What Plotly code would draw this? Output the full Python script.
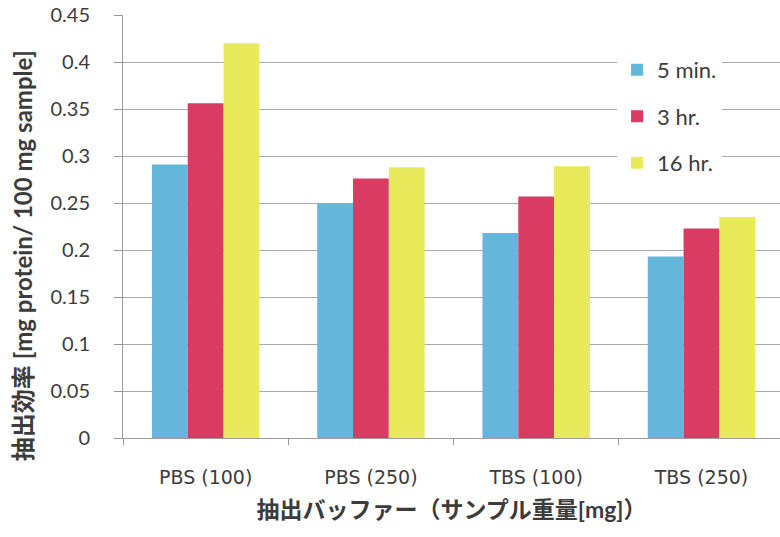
import plotly.graph_objects as go

categories = ["PBS (100)", "PBS (250)", "TBS (100)", "TBS (250)"]
series_names = ["5 min.", "3 hr.", "16 hr."]
values_5min = [0.291, 0.250, 0.218, 0.193]
values_3hr = [0.356, 0.276, 0.257, 0.223]
values_16hr = [0.420, 0.288, 0.289, 0.235]
colors = ["#64B6DA", "#DA3B62", "#E8EA5C"]
y_ticks = [0, 0.05, 0.1, 0.15, 0.2, 0.25, 0.3, 0.35, 0.4, 0.45]
y_tick_labels = ["0", "0.05", "0.1", "0.15", "0.2", "0.25", "0.3", "0.35", "0.4", "0.45"]
x_title = "抽出バッファー（サンプル重量[mg]）"
y_title = "抽出効率 [mg protein/ 100 mg sample]"

FONT = "Lato, 'Noto Sans CJK JP', sans-serif"
TXT = "#3c3c3c"

fig = go.Figure()
for name, vals, col in zip(series_names, [values_5min, values_3hr, values_16hr], colors):
    fig.add_trace(go.Bar(x=categories, y=vals, name=name, marker_color=col,
                         marker_line_width=0, legendgroup=name))

fig.update_layout(
    width=780, height=537,
    margin=dict(l=123, r=0, t=15, b=99),
    paper_bgcolor="white", plot_bgcolor="white",
    barmode="group", bargap=0.35, bargroupgap=0,
    font=dict(family=FONT, color=TXT),
    legend=dict(x=0.752, y=0.92, xanchor="left", yanchor="top",
                bgcolor="white", font=dict(size=22, color=TXT),
                tracegroupgap=15, itemwidth=30),
    annotations=[dict(text="<b>" + y_title + "</b>", textangle=-90,
                      xref="paper", yref="paper", x=-0.1537, y=0.43,
                      xanchor="center", yanchor="middle", showarrow=False,
                      font=dict(size=24, color=TXT, family=FONT))],
)
fig.update_xaxes(
    range=[-0.5, 3.475], showline=True, linecolor="#9a9a9a", linewidth=1,
    ticks="outside", tickson="boundaries", ticklen=6, tickcolor="#9a9a9a",
    tickfont=dict(size=19, color=TXT, family="'DejaVu Sans', sans-serif"), ticklabelstandoff=22,
    title=dict(text="<b>" + x_title + "</b>", font=dict(size=23, color=TXT), standoff=15),
)
fig.update_yaxes(
    range=[0, 0.45], tickvals=y_ticks, ticktext=y_tick_labels,
    showline=True, linecolor="#9a9a9a", linewidth=1,
    ticks="outside", ticklen=8, tickcolor="#9a9a9a",
    showgrid=True, gridcolor="#a8a8a8", gridwidth=1,
    tickfont=dict(size=20, color=TXT), ticklabelstandoff=20,
    zeroline=False,
)
fig.write_html("out.html")
